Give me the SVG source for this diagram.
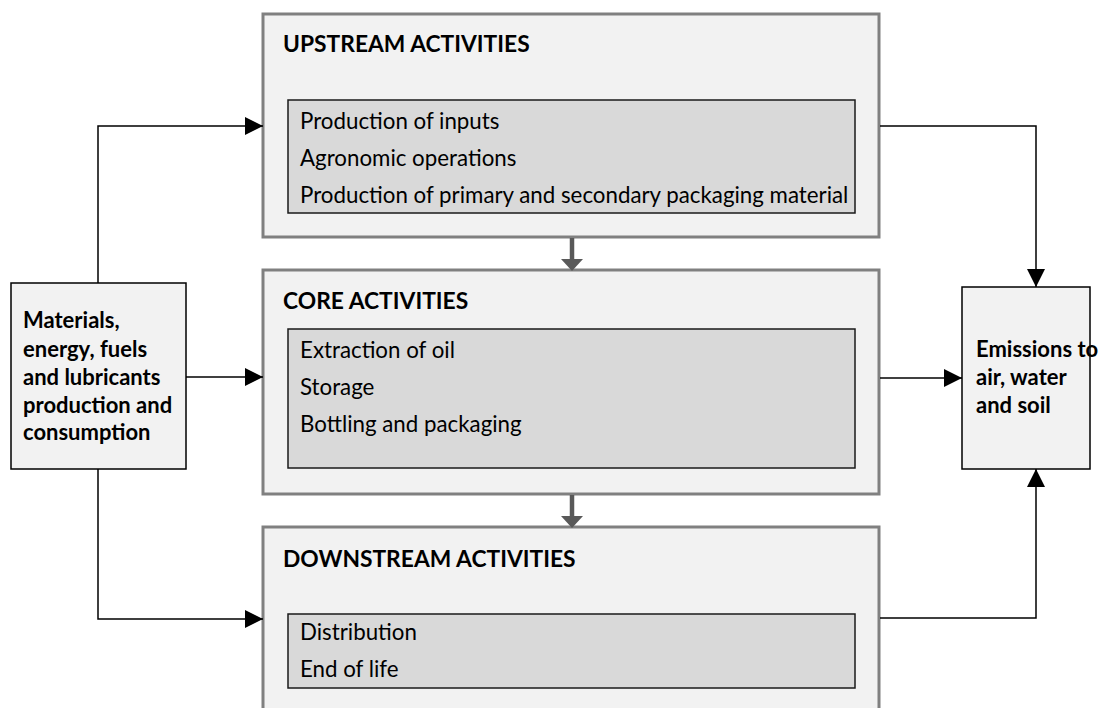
<svg xmlns="http://www.w3.org/2000/svg" width="1102" height="708" viewBox="0 0 1102 708">
<style>
.outer{fill:#f2f2f2;stroke:#808080;stroke-width:3}
.inner{fill:#d9d9d9;stroke:#1a1a1a;stroke-width:1.5}
.side{fill:#f2f2f2;stroke:#000;stroke-width:1.5}
.head{font-family:Lato,"Liberation Sans",sans-serif;font-weight:bold;font-size:22.8px;fill:#000}
.item{font-family:Lato,"Liberation Sans",sans-serif;font-size:22.3px;fill:#000}
.bold{font-family:Lato,"Liberation Sans",sans-serif;font-weight:bold;font-size:22px;fill:#000}
.conn{fill:none;stroke:#000;stroke-width:1.5}
.down{fill:none;stroke:#595959;stroke-width:4.5}
</style>
<defs>
<marker id="ah" markerWidth="18" markerHeight="18" refX="18" refY="9" orient="auto" markerUnits="userSpaceOnUse"><path d="M0,0 L18,9 L0,18 Z" fill="#000"/></marker>
<marker id="gh" markerWidth="22" markerHeight="12" refX="11" refY="0" orient="0" markerUnits="userSpaceOnUse"><path d="M0,0 L22,0 L11,12 Z" fill="#595959"/></marker>
</defs>
<g id="upstream">
<rect class="outer" x="263" y="14" width="616" height="223"/>
<text class="head" x="283" y="52">UPSTREAM ACTIVITIES</text>
<rect class="inner" x="288" y="100" width="567" height="113"/>
<text class="item" x="300" y="129">Production of inputs</text>
<text class="item" x="300" y="166">Agronomic operations</text>
<text class="item" x="300" y="203">Production of primary and secondary packaging material</text>
</g>
<g id="core">
<rect class="outer" x="263" y="270" width="616" height="224"/>
<text class="head" x="283" y="309">CORE ACTIVITIES</text>
<rect class="inner" x="288" y="329" width="567" height="139"/>
<text class="item" x="300" y="358">Extraction of oil</text>
<text class="item" x="300" y="395">Storage</text>
<text class="item" x="300" y="432">Bottling and packaging</text>
</g>
<g id="downstream">
<rect class="outer" x="263" y="527" width="616" height="200"/>
<text class="head" x="283" y="567">DOWNSTREAM ACTIVITIES</text>
<rect class="inner" x="288" y="614" width="567" height="74"/>
<text class="item" x="300" y="640">Distribution</text>
<text class="item" x="300" y="677">End of life</text>
</g>
<g id="inputs">
<rect class="side" x="11" y="283" width="175" height="186"/>
<text class="bold" x="23" y="328">Materials,</text>
<text class="bold" x="23" y="357">energy, fuels</text>
<text class="bold" x="23" y="385">and lubricants</text>
<text class="bold" x="23" y="413">production and</text>
<text class="bold" x="23" y="440">consumption</text>
</g>
<g id="emissions">
<rect class="side" x="962" y="287" width="128" height="182"/>
<text class="bold" x="976" y="357">Emissions to</text>
<text class="bold" x="976" y="385">air, water</text>
<text class="bold" x="976" y="413">and soil</text>
</g>
<g id="connectors">
<path class="conn" d="M98,283 V126 H263" marker-end="url(#ah)"/>
<path class="conn" d="M186,377 H263" marker-end="url(#ah)"/>
<path class="conn" d="M98,469 V619 H263" marker-end="url(#ah)"/>
<path class="conn" d="M880,126 H1036 V287" marker-end="url(#ah)"/>
<path class="conn" d="M880,378 H962" marker-end="url(#ah)"/>
<path class="conn" d="M880,618 H1036 V469" marker-end="url(#ah)"/>
<path class="down" d="M572,238 V259" marker-end="url(#gh)"/>
<path class="down" d="M572,495 V516" marker-end="url(#gh)"/>
</g>
</svg>
